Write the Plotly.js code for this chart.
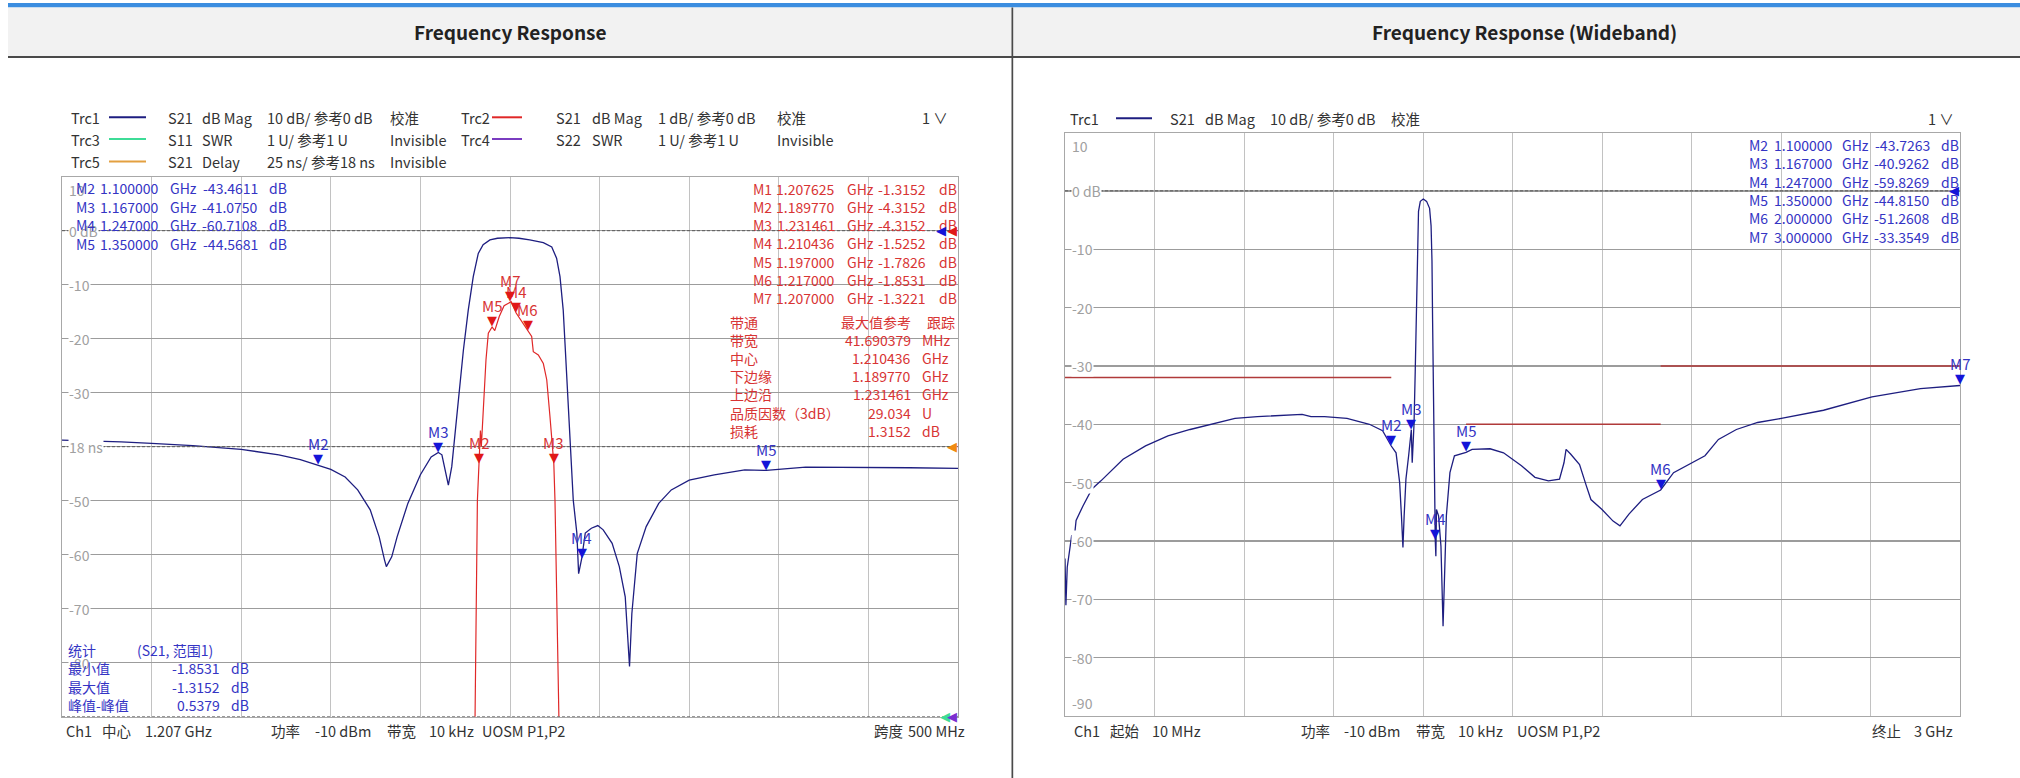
<!DOCTYPE html>
<html><head><meta charset="utf-8">
<script src="https://cdn.plot.ly/plotly-3.0.1.min.js"></script>
<style>html,body{margin:0;padding:0;background:#fff;overflow:hidden}#chart{width:2020px;height:778px}</style>
</head><body><div id="chart"></div>
<script>
// ================= DATA =================
const narrowCenterGHz = 1.207, narrowSpanGHz = 0.5;
const wideStartGHz = 0.01, wideStopGHz = 3.0;

// Trc1 S21 dB Mag (narrow view, 10 dB/div)
const narrowFreq = [0.957,0.975,0.990,1.007,1.030,1.057,1.078,1.090,1.100,1.107,1.115,1.122,1.129,1.134,1.137,1.138,1.141,1.144,1.150,1.157,1.163,1.167,1.169,1.171,1.1726,1.1745,1.178,1.181,1.1837,1.1865,1.1893,1.192,1.1958,1.200,1.207,1.212,1.218,1.2256,1.2303,1.233,1.2349,1.2367,1.2377,1.2395,1.2414,1.2423,1.2443,1.2453,1.247,1.249,1.2524,1.256,1.259,1.264,1.268,1.2713,1.2737,1.275,1.278,1.283,1.290,1.297,1.307,1.321,1.338,1.350,1.372,1.407,1.430,1.457];
const narrowS21 = [-38.8,-38.9,-39.1,-39.4,-39.8,-40.5,-41.5,-42.4,-43.46,-44.2,-45.6,-48.0,-51.7,-56.7,-61.0,-62.2,-60.4,-56.7,-50.5,-45.2,-41.9,-41.08,-41.5,-44.3,-47.1,-43.7,-31.4,-22.1,-14.7,-8.5,-4.2,-2.6,-1.7,-1.4,-1.3,-1.4,-1.7,-2.2,-3.0,-5.1,-8.5,-14.7,-20.9,-31.4,-43.7,-49.9,-56.0,-63.5,-60.71,-56.0,-55.1,-54.6,-55.4,-57.9,-62.2,-67.8,-80.7,-70.9,-59.8,-54.8,-50.5,-48.0,-46.2,-45.2,-44.3,-44.4,-43.8,-43.8,-43.9,-44.0];

// Trc2 S21 dB Mag (1 dB/div)
const trc2Freq = [1.184,1.1875,1.1888,1.18977,1.1905,1.1910,1.1925,1.1936,1.1949,1.197,1.1985,1.1995,1.2010,1.2037,1.207,1.207625,1.210436,1.2140,1.217,1.2191,1.2200,1.2228,1.2256,1.2275,1.2293,1.231461,1.2321,1.2343,1.237];
const trc2Db = [-14,-9.0,-5.0,-4.3152,-3.7,-4.0,-3.13,-2.39,-1.90,-1.7826,-1.85,-1.75,-1.59,-1.39,-1.3221,-1.3152,-1.5252,-1.70,-1.8531,-1.96,-2.24,-2.30,-2.46,-2.76,-3.44,-4.3152,-4.99,-9.0,-14];

// Trc1 S21 dB Mag (wideband view)
const wideFreq = [0.010,0.013,0.0175,0.025,0.0325,0.040,0.047,0.070,0.100,0.130,0.204,0.279,0.354,0.428,0.503,0.578,0.653,0.727,0.802,0.832,0.877,0.952,1.027,1.071,1.100,1.116,1.128,1.134,1.139,1.143,1.149,1.158,1.167,1.170,1.176,1.180,1.184,1.187,1.191,1.197,1.207,1.218,1.228,1.233,1.236,1.238,1.240,1.2425,1.245,1.247,1.249,1.251,1.258,1.266,1.273,1.278,1.284,1.296,1.311,1.350,1.370,1.430,1.475,1.535,1.580,1.625,1.662,1.677,1.684,1.699,1.729,1.752,1.767,1.804,1.841,1.864,1.894,1.939,2.000,2.043,2.103,2.148,2.193,2.253,2.324,2.403,2.544,2.706,2.868,3.000];
const wideS21 = [-63.0,-71.0,-64.5,-62.0,-59.0,-60.0,-56.5,-54.0,-51.1,-49.7,-46.0,-43.7,-42.0,-40.9,-39.9,-39.0,-38.7,-38.5,-38.3,-38.7,-38.7,-39.0,-40.0,-41.1,-43.73,-44.9,-50.0,-55.7,-61.1,-55.7,-49.4,-45.4,-40.93,-46.6,-40,-31,-20,-10,-3.5,-1.8,-1.4,-1.8,-3.0,-6,-12,-22,-33,-48,-58,-59.83,-62.6,-54.6,-55.7,-60.9,-74.6,-63.7,-55.7,-48.3,-45.4,-44.815,-44.3,-44.2,-44.9,-47.1,-49.1,-49.7,-49.4,-46.6,-44.3,-45.1,-46.9,-50.6,-52.9,-54.6,-56.6,-57.4,-55.4,-52.9,-51.2608,-48.3,-46.6,-45.4,-42.6,-40.9,-39.7,-39.0,-37.6,-35.3,-33.9,-33.3549];

// markers
const narrowMarkerNames = ['M2','M3','M4','M5'];
const narrowMarkerFreq = [1.100000,1.167000,1.247000,1.350000];
const narrowMarkerDb = [-43.4611,-41.0750,-60.7108,-44.5681];

const trc2MarkerNames = ['M1','M2','M3','M4','M5','M6','M7'];
const trc2MarkerFreq = [1.207625,1.189770,1.231461,1.210436,1.197000,1.217000,1.207000];
const trc2MarkerDb = [-1.3152,-4.3152,-4.3152,-1.5252,-1.7826,-1.8531,-1.3221];
const trc2MarkerShown = [false,true,true,true,true,true,true];

const wideMarkerNames = ['M2','M3','M4','M5','M6','M7'];
const wideMarkerFreq = [1.100000,1.167000,1.247000,1.350000,2.000000,3.000000];
const wideMarkerDb = [-43.7263,-40.9262,-59.8269,-44.8150,-51.2608,-33.3549];

// limit lines (wideband)
const limitStart = [0.01,1.35,2.0];
const limitStop = [1.1,2.0,3.0];
const limitDb = [-32,-40,-30];

// bandfilter table
const bandLabels = ['带通','带宽','中心','下边缘','上边沿','品质因数（3dB）','损耗'];
const bandValues = ['最大值参考','41.690379','1.210436','1.189770','1.231461','29.034','1.3152'];
const bandUnits = ['跟踪','MHz','GHz','GHz','GHz','U','dB'];

// statistics
const statTitle = ['统计','(S21, 范围1)'];
const statLabels = ['最小值','最大值','峰值-峰值'];
const statValues = ['-1.8531','-1.3152','0.5379'];

// y tick labels
const leftYTicks = [10,0,-10,-20,-30,-40,-50,-60,-70,-80];
const leftYTickText = ['10','0 dB','-10','-20','-30','18 ns','-50','-60','-70','-80'];
const rightYTicks = [10,0,-10,-20,-30,-40,-50,-60,-70,-80,-90];
const rightYTickText = ['10','0 dB','-10','-20','-30','-40','-50','-60','-70','-80','-90'];

// trace legend rows
const legendLeftRows = [
  ['Trc1','S21','dB Mag','10 dB/ 参考0 dB','校准','Trc2','S21','dB Mag','1 dB/ 参考0 dB','校准'],
  ['Trc3','S11','SWR','1 U/ 参考1 U','Invisible','Trc4','S22','SWR','1 U/ 参考1 U','Invisible'],
  ['Trc5','S21','Delay','25 ns/ 参考18 ns','Invisible']
];
const legendRightRow = ['Trc1','S21','dB Mag','10 dB/ 参考0 dB','校准'];
const bottomLeft = ['Ch1','中心','1.207 GHz','功率','-10 dBm','带宽','10 kHz','UOSM P1,P2','跨度','500 MHz'];
const bottomRight = ['Ch1','起始','10 MHz','功率','-10 dBm','带宽','10 kHz','UOSM P1,P2','终止','3 GHz'];
const titles = ['Frequency Response','Frequency Response (Wideband)'];

// ================= DRAW =================
const W = 2020, H = 778;
const FONT = '"Noto Sans CJK SC", "Noto Sans", sans-serif';
const C_TRC1 = '#1e1e80', C_TRC2 = '#e02828', C_TXT = '#333333';
const C_MBLUE = '#3434c4', C_MRED = '#d83434', C_TRI_B = '#1414d8', C_TRI_R = '#e01818';
const C_TRC3 = '#3ddc97', C_TRC4 = '#7a3cc0', C_TRC5 = '#e3a040';
const C_TICK = '#a0a0a0';
const px = x => x / W, py = y => 1 - y / H;

const LP = {l:62, r:958, t:176.7, b:716.7};
const RP = {l:1065, r:1960, t:132.5, b:716};

const nStart = narrowCenterGHz - narrowSpanGHz/2, nStop = narrowCenterGHz + narrowSpanGHz/2;

const ann = [];
const shapes = [];
function T(x, y, text, o) {
  o = o || {};
  ann.push({xref:'paper', yref:'paper', x:px(x), y:py(y), text:text, showarrow:false,
    xanchor:o.anchor || 'left', yanchor:'middle',
    font:{family:o.family || FONT, size:o.size || 14, color:o.color || C_TXT, weight:o.weight || 'normal'}});
}
function rectPx(x0,y0,x1,y1,fill){
  shapes.push({type:'rect', xref:'paper', yref:'paper', x0:px(x0), x1:px(x1), y0:py(y1), y1:py(y0), fillcolor:fill, line:{width:0}, layer:'above'});
}
function linePx(x0,y0,x1,y1,color,w){
  shapes.push({type:'line', xref:'paper', yref:'paper', x0:px(x0), x1:px(x1), y0:py(y0), y1:py(y1), line:{color:color, width:w||2}, layer:'above'});
}

// reference (dashed) lines, drawn over the grid
function dashed(xa,ya,v){
  shapes.push({type:'line', xref:xa+' domain', yref:ya, x0:0, x1:1, y0:v, y1:v, line:{color:'#5a5a5a', width:1, dash:'3px,2px'}, layer:'above'});
}
dashed('x','y',0); dashed('x','y',-40); dashed('x','y',-90); dashed('x2','y2',0);

// y tick labels first (so overlying texts cover them, as in the reference)
function yLabels(ticks,texts,xa,ya,top,bottom){
  ticks.forEach((v,i)=>{
    const isTop = v===top, isBot = v===bottom;
    ann.push({xref:xa+' domain', yref:ya, x:0, y:v, xshift:6, yshift: isTop? -2 : (isBot? 2 : 0),
      text:texts[i], showarrow:false, xanchor:'left', yanchor: isTop?'top':(isBot?'bottom':'middle'),
      bgcolor:'#ffffff', borderpad:0, font:{family:FONT,size:14,color:C_TICK}});
  });
}
yLabels(leftYTicks,leftYTickText,'x','y',10,-90);
yLabels(rightYTicks,rightYTickText,'x2','y2',10,-90);

// header
rectPx(8,3,W,7.5,'#3b8de0');
rectPx(8,7.5,W,56,'#f2f2f2');
rectPx(8,56,W,58,'#4a4a4a');
rectPx(1011.5,7.5,1013.2,H,'#4a4a4a');
T(510,32,titles[0],{anchor:'center', size:19, weight:'bold', color:'#222'});
T(1524,32,titles[1],{anchor:'center', size:19, weight:'bold', color:'#222'});

// trace legend (left)
const legCols = [69,166,200,265,388,459,554,590,656,775];
const legY = [117.3,139,161.5];
const legLineColors = [[C_TRC1,C_TRC2],[C_TRC3,C_TRC4],[C_TRC5]];
legendLeftRows.forEach((row,ri)=>{
  row.forEach((t,ci)=>T(legCols[ci],legY[ri],t,{size:14.5}));
  linePx(109,legY[ri],146,legY[ri],legLineColors[ri][0],2);
  if (legLineColors[ri][1]) linePx(492,legY[ri],522,legY[ri],legLineColors[ri][1],2);
});
T(950,117.3,'1 ∨',{anchor:'right', size:14.5});

// trace legend (right)
const legColsR = [1068,1168,1203,1268,1389];
legendRightRow.forEach((t,ci)=>T(legColsR[ci],118.3,t,{size:14.5}));
linePx(1116,118.3,1152,118.3,C_TRC1,2);
T(1956,118.3,'1 ∨',{anchor:'right', size:14.5});

// marker lists
function markerList(names,freqs,dbs,y0,dy,cols,color){
  names.forEach((n,i)=>{
    const y = y0 + i*dy;
    T(cols[0],y,n,{color:color});
    T(cols[1],y,freqs[i].toFixed(6),{anchor:'right',color:color});
    T(cols[2],y,'GHz',{color:color});
    T(cols[3],y,dbs[i].toFixed(4),{anchor:'right',color:color});
    T(cols[4],y,'dB',{color:color});
  });
}
markerList(narrowMarkerNames,narrowMarkerFreq,narrowMarkerDb,188.3,18.4,[74,161,168,260,267],C_MBLUE);
markerList(trc2MarkerNames,trc2MarkerFreq,trc2MarkerDb,189.3,18.05,[750.7,837,845,928,936.7],C_MRED);
markerList(wideMarkerNames,wideMarkerFreq,wideMarkerDb,145,18.33,[1746.7,1835,1840,1931.7,1939],C_MBLUE);

// band table
bandLabels.forEach((l,i)=>{
  const y = 321.7 + i*18.17;
  T(728,y,l,{color:C_MRED});
  T(913,y,bandValues[i],{anchor:'right',color:C_MRED});
  T(i===0?925:920,y,bandUnits[i],{color:C_MRED});
});

// stats
T(66,650,statTitle[0],{color:C_MBLUE});
T(135,650,statTitle[1],{color:C_MBLUE});
statLabels.forEach((l,i)=>{
  const y = 668.3 + i*18.3;
  T(66,y,l,{color:C_MBLUE});
  T(222,y,statValues[i],{anchor:'right',color:C_MBLUE});
  T(228.7,y,'dB',{color:C_MBLUE});
});

// bottom channel lines
const botColsL = [64.4,100,143,268.7,312.5,384.7,427,480,872,906];
bottomLeft.forEach((t,i)=>T(botColsL[i],730,t,{size:14.5}));
const botColsR = [1071.9,1108,1149.8,1299,1341.8,1414,1455.9,1515,1870,1912];
bottomRight.forEach((t,i)=>T(botColsR[i],730,t,{size:14.5}));

// reference arrows at the right edge
function refTri(xa,ya,v,color,shift){
  ann.push({xref:xa+' domain', yref:ya, x:1, y:v, xshift:shift, text:'◀', showarrow:false, xanchor:'right', yanchor:'middle',
    font:{family:'DejaVu Sans', size:13, color:color}});
}
refTri('x','y',0,C_TRI_B,-10); refTri('x','y',0,C_TRI_R,1);
refTri('x','y',-40,'#f08a10',1);
refTri('x','y',-90,C_TRC3,-6); refTri('x','y',-90,'#7b2fd0',1);
refTri('x2','y2',0,C_TRI_B,1);

// marker triangles + labels on the traces
function markTri(xa,ya,f,v,name,triColor,txtColor){
  ann.push({xref:xa, yref:ya, x:f, y:v, yshift:-3, text:'▼', showarrow:false, xanchor:'center', yanchor:'bottom',
    font:{family:'DejaVu Sans', size:13, color:triColor}});
  ann.push({xref:xa, yref:ya, x:f, y:v, yshift:9, text:name, showarrow:false, xanchor:'center', yanchor:'bottom',
    font:{family:FONT, size:15, color:txtColor}});
}
narrowMarkerNames.forEach((n,i)=>markTri('x','y',narrowMarkerFreq[i],narrowMarkerDb[i],n,C_TRI_B,C_MBLUE));
trc2MarkerNames.forEach((n,i)=>{ if (trc2MarkerShown[i]) markTri('x','y3',trc2MarkerFreq[i],trc2MarkerDb[i],n,C_TRI_R,C_MRED); });
wideMarkerNames.forEach((n,i)=>markTri('x2','y2',wideMarkerFreq[i],wideMarkerDb[i],n,C_TRI_B,C_MBLUE));

// limit line trace
const limX = [], limY = [];
limitStart.forEach((s,i)=>{ limX.push(s,limitStop[i],null); limY.push(limitDb[i],limitDb[i],null); });

const traces = [
  {x:narrowFreq, y:narrowS21, xaxis:'x', yaxis:'y', mode:'lines', line:{color:C_TRC1, width:1.3}, hoverinfo:'skip'},
  {x:trc2Freq, y:trc2Db, xaxis:'x', yaxis:'y3', mode:'lines', line:{color:C_TRC2, width:1.2}, hoverinfo:'skip'},
  {x:wideFreq, y:wideS21, xaxis:'x2', yaxis:'y2', mode:'lines', line:{color:C_TRC1, width:1.3}, hoverinfo:'skip'},
  {x:limX, y:limY, xaxis:'x2', yaxis:'y2', mode:'lines', line:{color:'#b03a3a', width:1.5}, connectgaps:false, hoverinfo:'skip'}
];

const axBase = {showticklabels:false, zeroline:false, showline:true, mirror:true, linecolor:'#a8a8a8', linewidth:1, ticks:'', fixedrange:true};
const layout = {
  width:W, height:H, autosize:false, showlegend:false,
  margin:{l:0,r:0,t:0,b:0}, paper_bgcolor:'#ffffff', plot_bgcolor:'#ffffff',
  xaxis:Object.assign({}, axBase, {domain:[px(LP.l),px(LP.r)], range:[nStart,nStop], tick0:nStart, dtick:narrowSpanGHz/10, gridcolor:'#c2c2c2', gridwidth:1, anchor:'y'}),
  yaxis:Object.assign({}, axBase, {domain:[py(LP.b),py(LP.t)], range:[-90,10], tick0:0, dtick:10, gridcolor:'#9c9c9c', gridwidth:1.3, anchor:'x'}),
  yaxis3:{overlaying:'y', anchor:'x', range:[-9,1], showgrid:false, showticklabels:false, zeroline:false, showline:false, ticks:'', fixedrange:true},
  xaxis2:Object.assign({}, axBase, {domain:[px(RP.l),px(RP.r)], range:[wideStartGHz,wideStopGHz], tick0:wideStartGHz, dtick:(wideStopGHz-wideStartGHz)/10, gridcolor:'#c2c2c2', gridwidth:1, anchor:'y2'}),
  yaxis2:Object.assign({}, axBase, {domain:[py(RP.b),py(RP.t)], range:[-90,10], tick0:0, dtick:10, gridcolor:'#9c9c9c', gridwidth:1.3, anchor:'x2'}),
  annotations:ann, shapes:shapes
};
Plotly.newPlot('chart', traces, layout, {staticPlot:true, displayModeBar:false});
</script></body></html>
